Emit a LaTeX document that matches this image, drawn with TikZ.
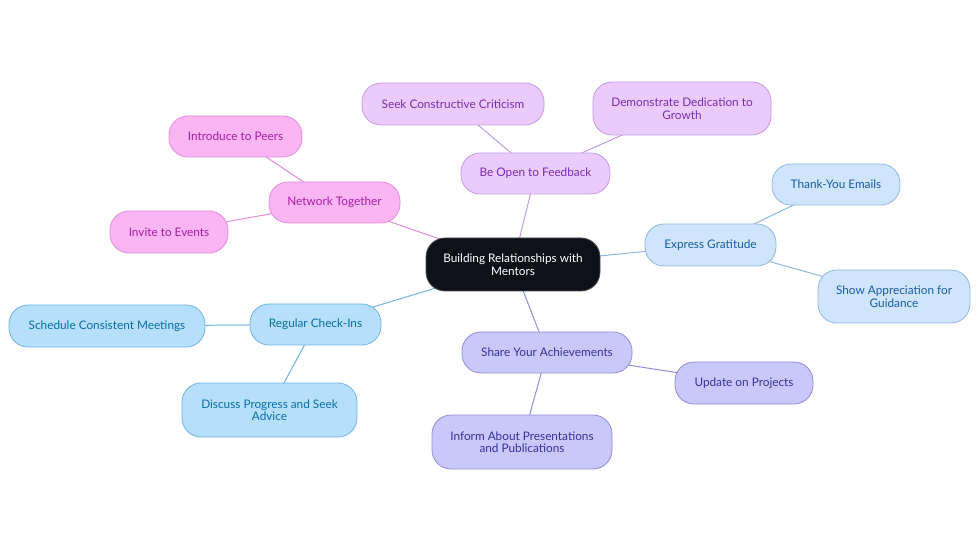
\documentclass[tikz,border=0pt]{standalone}
\usepackage{fontspec}
\setmainfont{Lato}
\usetikzlibrary{backgrounds}
\definecolor{rootFill}{HTML}{0E1218}
\definecolor{pinkFill}{HTML}{FAB5F2}
\definecolor{pinkLine}{HTML}{E68CDD}
\definecolor{pinkText}{HTML}{A81FA3}
\definecolor{lilacFill}{HTML}{EACBFB}
\definecolor{lilacLine}{HTML}{C59BE6}
\definecolor{lilacText}{HTML}{7A2DB5}
\definecolor{skyFill}{HTML}{CFE5FB}
\definecolor{skyLine}{HTML}{8FB8E3}
\definecolor{skyText}{HTML}{1A5DA6}
\definecolor{blueFill}{HTML}{B5DFFB}
\definecolor{blueLine}{HTML}{70B5E2}
\definecolor{blueText}{HTML}{0A6EA6}
\definecolor{indFill}{HTML}{C9C8FB}
\definecolor{indLine}{HTML}{918EDC}
\definecolor{indText}{HTML}{36329C}
\tikzset{
  box/.style={draw, rounded corners=19pt, align=center, inner sep=0pt,
    line width=0.8pt, font=\fontsize{11.8}{12.5}\selectfont},
  rootbox/.style={box, fill=rootFill, draw=black!70, text=white},
  pinkbox/.style={box, fill=pinkFill, draw=pinkLine, text=pinkText},
  lilacbox/.style={box, fill=lilacFill, draw=lilacLine, text=lilacText},
  skybox/.style={box, fill=skyFill, draw=skyLine, text=skyText},
  bluebox/.style={box, fill=blueFill, draw=blueLine, text=blueText},
  indbox/.style={box, fill=indFill, draw=indLine, text=indText},
  link/.style={line width=1pt}
}
\begin{document}
\begin{tikzpicture}[x=1pt,y=-1pt]
  \useasboundingbox (0,0) rectangle (980,553);

  % centre
  \node[rootbox, minimum width=174pt, minimum height=53pt] (root) at (513,264.5)
    {Building Relationships with\\Mentors};

  % feedback
  \node[lilacbox, minimum width=149pt, minimum height=41pt] (feedback) at (535.5,173.5) {Be Open to Feedback};
  \node[lilacbox, minimum width=182pt, minimum height=42pt] (criticism) at (453,104) {Seek Constructive Criticism};
  \node[lilacbox, minimum width=178pt, minimum height=53pt] (growth) at (682,108.5) {Demonstrate Dedication to\\Growth};

  % network
  \node[pinkbox, minimum width=131pt, minimum height=41pt] (network) at (334.5,202.5) {Network Together};
  \node[pinkbox, minimum width=133pt, minimum height=41pt] (peers) at (235.5,136.5) {Introduce to Peers};
  \node[pinkbox, minimum width=118pt, minimum height=42pt] (events) at (169,232) {Invite to Events};

  % gratitude
  \node[skybox, minimum width=131pt, minimum height=42pt] (gratitude) at (710.5,245) {Express Gratitude};
  \node[skybox, minimum width=128pt, minimum height=41pt] (emails) at (836,184.5) {Thank-You Emails};
  \node[skybox, minimum width=152pt, minimum height=53pt] (guidance) at (894,296.5) {Show Appreciation for\\Guidance};

  % check-ins
  \node[bluebox, minimum width=131pt, minimum height=41pt] (checkins) at (315.5,324.5) {Regular Check-Ins};
  \node[bluebox, minimum width=196pt, minimum height=42pt] (meetings) at (107,326) {Schedule Consistent Meetings};
  \node[bluebox, minimum width=175pt, minimum height=54pt] (advice) at (269.5,410) {Discuss Progress and Seek\\Advice};

  % achievements
  \node[indbox, minimum width=170pt, minimum height=41pt] (achieve) at (547,352.5) {Share Your Achievements};
  \node[indbox, minimum width=138pt, minimum height=42pt] (projects) at (744,383) {Update on Projects};
  \node[indbox, minimum width=180pt, minimum height=54pt] (talks) at (522,442) {Inform About Presentations\\and Publications};

  % connectors behind the boxes
  \begin{scope}[on background layer]
    \fill[white] (0,0) rectangle (980,553);
    \draw[link, lilacLine] (root.center) -- (feedback.center);
    \draw[link, lilacLine] (feedback.center) -- (criticism.center);
    \draw[link, lilacLine] (feedback.center) -- (growth.center);
    \draw[link, pinkLine] (root.center) -- (network.center);
    \draw[link, pinkLine] (network.center) -- (peers.center);
    \draw[link, pinkLine] (network.center) -- (events.center);
    \draw[link, skyLine] (root.center) -- (gratitude.center);
    \draw[link, skyLine] (gratitude.center) -- (emails.center);
    \draw[link, skyLine] (gratitude.center) -- (guidance.center);
    \draw[link, blueLine] (root.center) -- (checkins.center);
    \draw[link, blueLine] (checkins.center) -- (meetings.center);
    \draw[link, blueLine] (checkins.center) -- (advice.center);
    \draw[link, indLine] (root.center) -- (achieve.center);
    \draw[link, indLine] (achieve.center) -- (projects.center);
    \draw[link, indLine] (achieve.center) -- (talks.center);
  \end{scope}
\end{tikzpicture}
\end{document}
